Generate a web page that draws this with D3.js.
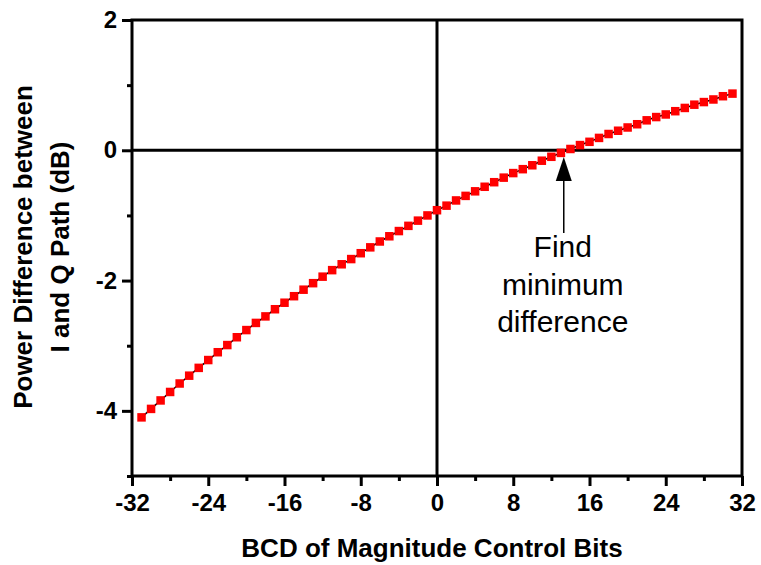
<!DOCTYPE html>
<html>
<head>
<meta charset="utf-8">
<title>Power Difference between I and Q Path</title>
<script src="https://cdn.jsdelivr.net/npm/d3@7/dist/d3.min.js"></script>
<style>
	body { margin: 0; background: #fff; }
	svg text { font-family: "Liberation Sans", Arial, sans-serif; }
	.axis path, .axis line { stroke: #000; stroke-width: 3px; }
	.axis text { font-size: 24px; font-weight: bold; fill: #000; }
</style>
</head>
<body>
<div id="chart"></div>
<script>
	// BCD code of the magnitude control bits
	var codes = d3.range(-31, 32);
	// power difference (dB)
	var diffDb = [
		-4.10, -3.97, -3.84, -3.71, -3.58, -3.46, -3.34, -3.22, -3.10, -2.99,
		-2.87, -2.76, -2.65, -2.55, -2.44, -2.34, -2.24, -2.14, -2.04, -1.94,
		-1.84, -1.75, -1.67, -1.58, -1.49, -1.40, -1.32, -1.24, -1.16, -1.08,
		-1.00, -0.92, -0.85, -0.77, -0.70, -0.63, -0.56, -0.49, -0.42, -0.35,
		-0.29, -0.23, -0.16, -0.10, -0.04, 0.02, 0.08, 0.13, 0.19, 0.25,
		0.30, 0.35, 0.40, 0.46, 0.51, 0.55, 0.60, 0.65, 0.70, 0.74,
		0.78, 0.83, 0.87
	];
	var xTicks = [-32, -24, -16, -8, 0, 8, 16, 24, 32];
	var xMinorTicks = [-28, -20, -12, -4, 4, 12, 20, 28];
	var yTicks = [-4, -2, 0, 2];
	var yMinorTicks = [-5, -3, -1, 1];
	var noteLines = ['Find', 'minimum', 'difference'];
	var noteAt = 13.3; // where the arrow points

	var width = 761,
		height = 565,
		plotL = 132, plotR = 742, plotT = 20, plotB = 476;

	var data = codes.map(function(c, i) { return {x: c, y: diffDb[i]}; });

	var x = d3.scaleLinear().domain([-32, 32]).range([plotL, plotR]);
	var y = d3.scaleLinear().domain([-5, 2]).range([plotB, plotT]);

	var svg = d3.select('#chart').append('svg')
		.attr('width', width)
		.attr('height', height);

	// minor ticks first, then major axes with labels
	svg.append('g').attr('class', 'axis')
		.attr('transform', 'translate(0,' + plotB + ')')
		.call(d3.axisBottom(x).tickValues(xMinorTicks).tickSize(5).tickFormat(''))
		.select('.domain').remove();
	svg.append('g').attr('class', 'axis')
		.attr('transform', 'translate(' + plotL + ',0)')
		.call(d3.axisLeft(y).tickValues(yMinorTicks).tickSize(5).tickFormat(''))
		.select('.domain').remove();

	var xAxis = svg.append('g').attr('class', 'axis')
		.attr('transform', 'translate(0,' + plotB + ')')
		.call(d3.axisBottom(x).tickValues(xTicks).tickSize(10).tickSizeOuter(0)
			.tickPadding(8).tickFormat(String));
	xAxis.select('.domain').remove();

	var yAxis = svg.append('g').attr('class', 'axis')
		.attr('transform', 'translate(' + plotL + ',0)')
		.call(d3.axisLeft(y).tickValues(yTicks).tickSize(10).tickSizeOuter(0)
			.tickPadding(5).tickFormat(String));
	yAxis.select('.domain').remove();

	// frame and zero lines
	svg.append('rect')
		.attr('x', plotL).attr('y', plotT)
		.attr('width', plotR - plotL).attr('height', plotB - plotT)
		.attr('fill', 'none').attr('stroke', '#000').attr('stroke-width', 3);
	svg.append('line')
		.attr('x1', plotL).attr('x2', plotR)
		.attr('y1', y(0)).attr('y2', y(0))
		.attr('stroke', '#000').attr('stroke-width', 3);
	svg.append('line')
		.attr('x1', x(0)).attr('x2', x(0))
		.attr('y1', plotT).attr('y2', plotB)
		.attr('stroke', '#000').attr('stroke-width', 3);

	// data line and markers
	var line = d3.line()
		.x(function(d) { return x(d.x); })
		.y(function(d) { return y(d.y); });
	svg.append('path')
		.datum(data)
		.attr('d', line)
		.attr('fill', 'none')
		.attr('stroke', '#000')
		.attr('stroke-width', 1.5);
	var m = 8.5;
	svg.selectAll('rect.pt')
		.data(data)
		.enter()
		.append('rect')
		.attr('class', 'pt')
		.attr('x', function(d) { return x(d.x) - m / 2; })
		.attr('y', function(d) { return y(d.y) - m / 2; })
		.attr('width', m)
		.attr('height', m)
		.attr('fill', '#ff0000');

	// annotation arrow
	var ax = x(noteAt);
	svg.append('line')
		.attr('x1', ax).attr('x2', ax)
		.attr('y1', 178).attr('y2', 233)
		.attr('stroke', '#000').attr('stroke-width', 1.5);
	svg.append('path')
		.attr('d', 'M' + ax + ',157 L' + (ax - 8) + ',181 L' + (ax + 8) + ',181 Z')
		.attr('fill', '#000');
	svg.append('g').selectAll('text')
		.data(noteLines)
		.enter()
		.append('text')
		.attr('x', ax - 1)
		.attr('y', function(d, i) { return 257 + i * 37.5; })
		.attr('text-anchor', 'middle')
		.attr('font-size', 30)
		.text(function(d) { return d; });

	// axis titles
	svg.append('text')
		.attr('x', (plotL + plotR) / 2 - 5)
		.attr('y', 557)
		.attr('text-anchor', 'middle')
		.attr('font-size', 26)
		.attr('font-weight', 'bold')
		.text('BCD of Magnitude Control Bits');
	var yTitle = svg.append('text')
		.attr('transform', 'translate(32,247) rotate(-90)')
		.attr('text-anchor', 'middle')
		.attr('font-size', 26)
		.attr('font-weight', 'bold');
	yTitle.append('tspan').attr('x', 0).attr('y', 0).text('Power Difference between');
	yTitle.append('tspan').attr('x', 0).attr('y', 37).text('I and Q Path (dB)');
</script>
</body>
</html>
